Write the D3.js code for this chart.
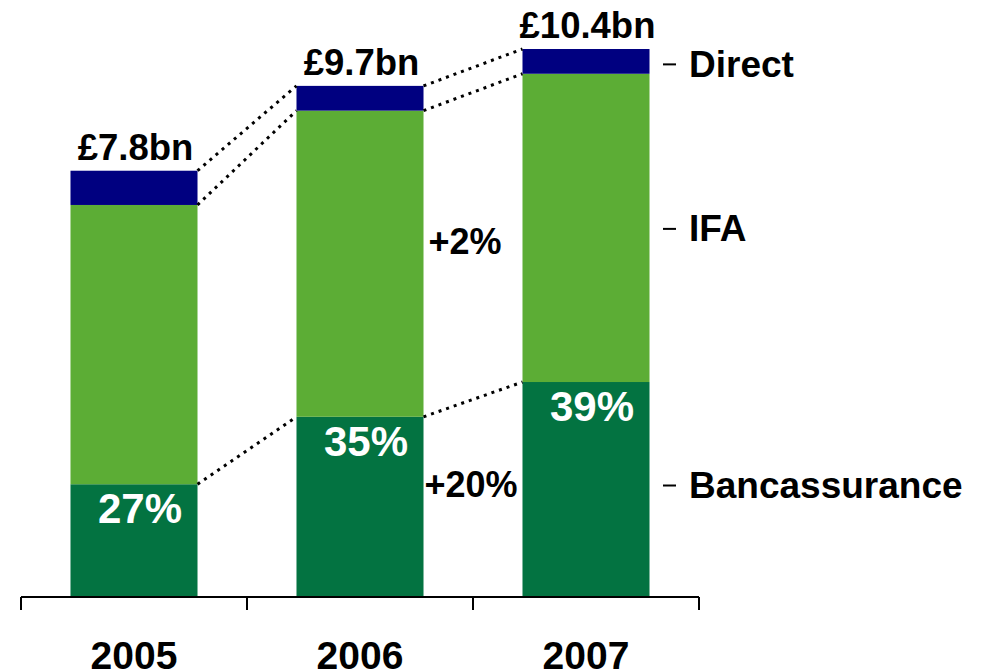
<!DOCTYPE html>
<html>
<head>
<meta charset="utf-8">
<script src="https://cdn.jsdelivr.net/npm/d3@7"></script>
<style>
  body { margin: 0; background: #fff; }
  text { font-family: "Liberation Sans", Arial, sans-serif; font-weight: bold; }
</style>
</head>
<body>
<script>
var width = 981;
var height = 672;

// data (bn, as drawn)
var years = ["2005", "2006", "2007"];
var bancassurance = [2.14, 3.42, 4.08];
var ifa = [5.30, 5.81, 5.85];
var direct = [0.65, 0.47, 0.47];
var totalLabels = ["£7.8bn", "£9.7bn", "£10.4bn"];
var shareLabels = ["27%", "35%", "39%"];
var growthLabels = ["+2%", "+20%"];
var channels = ["Bancassurance", "IFA", "Direct"];
var colors = ["#037341", "#5cad35", "#000080"];

// legend label nudges from segment middle (px)
var legendNudge = [-4, 1, 3];

var svg = d3.select("body")
  .append("svg")
  .attr("width", width)
  .attr("height", height);

var x = d3.scaleBand()
  .domain(years)
  .range([21, 699])
  .paddingInner(0.438)
  .paddingOuter(0.219);

var y = d3.scaleLinear()
  .domain([0, 10.4])
  .range([597, 49]);

var rows = years.map(function (yr, i) {
  return { year: yr, Bancassurance: bancassurance[i], IFA: ifa[i], Direct: direct[i] };
});

var series = d3.stack().keys(channels)(rows);

// bars
svg.append("g")
  .selectAll("g")
  .data(series)
  .join("g")
  .attr("fill", function (d, i) { return colors[i]; })
  .selectAll("rect")
  .data(function (d) { return d; })
  .join("rect")
  .attr("x", function (d) { return x(d.data.year); })
  .attr("y", function (d) { return y(d[1]); })
  .attr("width", x.bandwidth())
  .attr("height", function (d) { return y(d[0]) - y(d[1]); });

// dotted connectors: bancassurance top, IFA top, total
var dots = svg.append("g")
  .attr("fill", "none")
  .attr("stroke", "#000")
  .attr("stroke-width", 3)
  .attr("stroke-dasharray", "3,5");

series.forEach(function (s) {
  for (var i = 0; i < years.length - 1; i++) {
    dots.append("line")
      .attr("x1", x(years[i]) + x.bandwidth())
      .attr("y1", y(s[i][1]))
      .attr("x2", x(years[i + 1]))
      .attr("y2", y(s[i + 1][1]));
  }
});

// totals above bars
svg.append("g")
  .selectAll("text")
  .data(series[2])
  .join("text")
  .attr("x", function (d) { return x(d.data.year) + x.bandwidth() / 2 + 1.5; })
  .attr("y", function (d) { return y(d[1]) - 11; })
  .attr("text-anchor", "middle")
  .attr("font-size", 36.5)
  .attr("fill", "#000")
  .text(function (d, i) { return totalLabels[i]; });

// bancassurance share
svg.append("g")
  .selectAll("text")
  .data(series[0])
  .join("text")
  .attr("x", function (d) { return x(d.data.year) + x.bandwidth() / 2 + 6; })
  .attr("y", function (d) { return y(d[1]) + 39; })
  .attr("text-anchor", "middle")
  .attr("font-size", 42)
  .attr("fill", "#fff")
  .text(function (d, i) { return shareLabels[i]; });

// growth 2006 -> 2007
var mid06 = [series[1][1], series[0][1]];
svg.append("g")
  .selectAll("text")
  .data(mid06)
  .join("text")
  .attr("x", function (d, i) { return x("2006") + x.bandwidth() + (i === 0 ? 5 : 1); })
  .attr("y", function (d) { return (y(d[0]) + y(d[1])) / 2 - 10; })
  .attr("font-size", 36)
  .attr("fill", "#000")
  .text(function (d, i) { return growthLabels[i]; });

// legend next to 2007 bar
var last = years.length - 1;
var legend = svg.append("g")
  .selectAll("g")
  .data(series)
  .join("g")
  .attr("transform", function (d, i) {
    var m = (y(d[last][0]) + y(d[last][1])) / 2 + legendNudge[i];
    return "translate(0," + m + ")";
  });

legend.append("line")
  .attr("x1", 663)
  .attr("x2", 676)
  .attr("stroke", "#000")
  .attr("stroke-width", 2);

legend.append("text")
  .attr("x", 689)
  .attr("y", 12.5)
  .attr("font-size", 37)
  .attr("fill", "#000")
  .text(function (d) { return d.key; });

// axis with ticks at band edges
var axis = svg.append("g")
  .attr("stroke", "#000")
  .attr("stroke-width", 2)
  .attr("fill", "none");

var x0 = x.range()[0];
var x1 = x.range()[1];
axis.append("line")
  .attr("x1", x0).attr("x2", x1)
  .attr("y1", y(0)).attr("y2", y(0));

d3.range(years.length + 1).forEach(function (i) {
  var tx = x0 + i * x.step();
  axis.append("line")
    .attr("x1", tx).attr("x2", tx)
    .attr("y1", y(0)).attr("y2", y(0) + 13);
});

svg.append("g")
  .selectAll("text")
  .data(years)
  .join("text")
  .attr("x", function (d) { return x(d) + x.bandwidth() / 2; })
  .attr("y", 669)
  .attr("text-anchor", "middle")
  .attr("font-size", 39)
  .attr("fill", "#000")
  .text(function (d) { return d; });
</script>
</body>
</html>
